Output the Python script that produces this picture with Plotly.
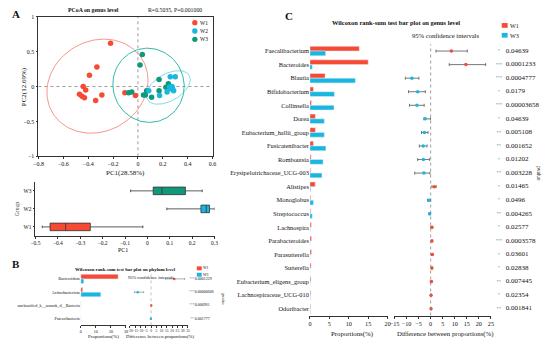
import numpy as np
import plotly.graph_objects as go

W, H = 550, 347
FONT = "Liberation Serif"
RED = "#F64A35"
CYAN = "#19B6DF"
GREEN = "#10987A"
ELL_COLORS = {"W1": "#F7968A", "W2": "#82D9EC", "W3": "#2DBBA9"}
PT_COLORS = {"W1": RED, "W2": CYAN, "W3": GREEN}

# ---------------- Panel A: PCoA ----------------
groups = ["W1", "W2", "W3"]
pc1_w1 = [-0.22, -0.33, -0.39, -0.44, -0.42, -0.47, -0.45, -0.43, -0.34, -0.29, -0.105, -0.02]
pc2_w1 = [0.62, 0.28, 0.16, 0.0, -0.05, -0.11, -0.14, -0.16, -0.20, -0.12, -0.09, -0.13]
pc1_w2 = [0.26, 0.30, 0.087, 0.174, 0.234, 0.268, 0.279, 0.287, 0.255, 0.263, 0.274]
pc2_w2 = [0.14, 0.14, -0.06, -0.13, -0.08, -0.023, -0.035, -0.06, -0.005, -0.03, 0.0]
pc1_w3 = [0.035, 0.017, -0.075, -0.05, 0.07, 0.045, 0.06, 0.11, 0.17, 0.17, 0.245, 0.225]
pc2_w3 = [0.46, 0.31, -0.09, -0.08, -0.06, -0.12, -0.12, -0.155, 0.10, -0.06, 0.04, -0.01]
pcoa_title = "PCoA on genus level"
pcoa_stat = "R=0.5035, P=0.001000"
pc1_label = "PC1(28.58%)"
pc2_label = "PC2(12.69%)"
pcoa_xticks = [-0.8, -0.6, -0.4, -0.2, 0, 0.2, 0.4, 0.6]
pcoa_yticks = [-1, -0.5, 0, 0.5, 1]
box_xticks = [-0.5, -0.4, -0.3, -0.2, -0.1, 0, 0.1, 0.2, 0.3]

# ---------------- Panel B: phylum ----------------
phylum_title = "Wilcoxon rank-sum test bar plot on phylum level"
phylum = ["Bacteroidota", "Actinobacteriota", "unclassified_k__norank_d__Bacteria", "Patescibacteria"]
phylum_w1 = [24.8, 1.3, 0.15, 0.05]
phylum_w3 = [2.0, 13.3, 0.03, 0.15]
phylum_diff = [22.0, -12.6, 0.2, -0.15]
phylum_lo = [13.8, -15.7, 0.1, -0.3]
phylum_hi = [31.8, -7.0, 0.3, 0.0]
phylum_p = ["0.0001229", "0.00000606", "0.000961", "0.001777"]
phylum_prop_ticks = [0, 10, 20, 30]
phylum_diff_ticks = [-20, -15, -10, -5, 0, 5, 10, 15, 20, 25, 30, 35]

# ---------------- Panel C: genus ----------------
genus_title = "Wilcoxon rank-sum test bar plot on genus level"
genus = ["Faecalibacterium", "Bacteroides", "Blautia", "Bifidobacterium", "Collinsella", "Dorea",
         "Eubacterium_hallii_group", "Fusicatenibacter", "Romboutsia", "Erysipelotrichaceae_UCG-003",
         "Alistipes", "Monoglobus", "Streptococcus", "Lachnospira", "Parabacteroides",
         "Parasutterella", "Sutterella", "Eubacterium_eligens_group", "Lachnospiraceae_UCG-010",
         "Odoribacter"]
genus_w1 = [12.7, 15.0, 3.9, 0.9, 0.4, 1.4, 1.4, 0.9, 0.3, 0.2, 1.35, 0.2, 0.2, 0.35, 0.4, 0.4, 0.3, 0.25, 0.2, 0.15]
genus_w3 = [4.05, 0.6, 11.7, 6.3, 6.2, 3.7, 3.7, 4.1, 3.4, 3.1, 0.2, 0.9, 0.6, 0.05, 0.05, 0.05, 0.03, 0.05, 0.1, 0.1]
genus_diff = [8.6, 14.6, -7.8, -5.4, -5.7, -2.3, -2.6, -3.1, -3.0, -2.8, 1.5, -0.7, -0.4, 0.5, 0.5, 0.65, 0.5, 0.3, 0.15, 0.15]
genus_lo = [2.2, 7.7, -10.5, -9.2, -8.8, -2.8, -3.8, -4.7, -5.4, -6.6, 0.5, -1.3, -0.7, 0.2, 0.3, 0.4, 0.3, 0.15, 0.05, 0.05]
genus_hi = [15.2, 22.8, -4.9, -2.2, -2.7, -0.1, -1.1, -1.5, -0.4, -0.3, 2.3, 0.0, -0.1, 0.8, 0.8, 0.9, 0.75, 0.5, 0.3, 0.3]
genus_p = ["0.04639", "0.0001233", "0.0004777", "0.0179", "0.00003658", "0.04639", "0.005108",
           "0.001652", "0.01202", "0.003228", "0.01465", "0.0496", "0.004265", "0.02577",
           "0.0003578", "0.03601", "0.02838", "0.007445", "0.02354", "0.001841"]
genus_prop_ticks = [0, 5, 10, 15, 20]
genus_diff_ticks = [-15, -10, -5, 0, 5, 10, 15, 20, 25]
ci_label = "95% confidence intervals"


def X(p):
    return p / W


def Y(p):
    return 1 - p / H


def stars(p):
    v = float(p)
    return "***" if v < 0.001 else ("**" if v < 0.01 else "*")


def conf_ellipse(x, y, level=0.95, npts=120):
    x = np.asarray(x, float)
    y = np.asarray(y, float)
    n = len(x)
    cov = np.cov(x, y)
    d2 = n - 1
    f = d2 / 2 * ((1 - level) ** (-2 / d2) - 1)  # F(2, n-1) quantile
    r = np.sqrt(2 * f)
    vals, vecs = np.linalg.eigh(cov)
    t = np.linspace(0, 2 * np.pi, npts)
    circ = np.vstack([np.cos(t), np.sin(t)])
    pts = vecs @ (np.sqrt(vals)[:, None] * circ) * r
    return x.mean() + pts[0], y.mean() + pts[1]


pc1 = {"W1": pc1_w1, "W2": pc1_w2, "W3": pc1_w3}
pc2 = {"W1": pc2_w1, "W2": pc2_w2, "W3": pc2_w3}

fig = go.Figure()

# ellipses then points
for g in groups:
    ex, ey = conf_ellipse(pc1[g], pc2[g])
    fig.add_trace(go.Scatter(x=ex, y=ey, mode="lines", line=dict(color=ELL_COLORS[g], width=1),
                             hoverinfo="skip", showlegend=False, xaxis="x", yaxis="y"))
for g in ["W1", "W3", "W2"]:
    fig.add_trace(go.Scatter(x=pc1[g], y=pc2[g], mode="markers", name=g,
                             marker=dict(color=PT_COLORS[g], size=5.5), showlegend=False,
                             xaxis="x", yaxis="y"))

# boxplot of PC1
for g in groups:
    fig.add_trace(go.Box(x=pc1[g], y=[g] * len(pc1[g]), orientation="h", name=g, boxpoints=False,
                         fillcolor=PT_COLORS[g], line=dict(color="#333333", width=0.8),
                         whiskerwidth=0.35, showlegend=False, xaxis="x2", yaxis="y2"))

# Panel B bars
fig.add_trace(go.Bar(y=phylum, x=phylum_w1, orientation="h", marker_color=RED, name="W1",
                     showlegend=False, xaxis="x3", yaxis="y3"))
fig.add_trace(go.Bar(y=phylum, x=phylum_w3, orientation="h", marker_color=CYAN, name="W3",
                     showlegend=False, xaxis="x3", yaxis="y3"))
pd_arr = np.array(phylum_diff)
fig.add_trace(go.Scatter(y=phylum, x=phylum_diff, mode="markers",
                         marker=dict(color=[RED if d > 0 else CYAN for d in phylum_diff], size=2.5),
                         error_x=dict(type="data", symmetric=False,
                                      array=list(np.array(phylum_hi) - pd_arr),
                                      arrayminus=list(pd_arr - np.array(phylum_lo)),
                                      color="#777777", thickness=0.6, width=1),
                         showlegend=False, xaxis="x4", yaxis="y4"))
# Panel B p-value column (stars + values)
fig.add_trace(go.Scatter(y=phylum, x=[0] * len(phylum), mode="text", cliponaxis=False,
                         text=[stars(p) for p in phylum_p], textposition="middle center",
                         textfont=dict(family=FONT, size=3.5, color="#6b7fa0"),
                         hoverinfo="skip", showlegend=False, xaxis="x7", yaxis="y7"))
fig.add_trace(go.Scatter(y=phylum, x=[0] * len(phylum), mode="text", cliponaxis=False,
                         text=phylum_p, textposition="middle right",
                         textfont=dict(family=FONT, size=4.0, color="#111111"),
                         hoverinfo="skip", showlegend=False, xaxis="x8", yaxis="y8"))

# Panel C bars
fig.add_trace(go.Bar(y=genus, x=genus_w1, orientation="h", marker_color=RED, name="W1",
                     showlegend=False, xaxis="x5", yaxis="y5"))
fig.add_trace(go.Bar(y=genus, x=genus_w3, orientation="h", marker_color=CYAN, name="W3",
                     showlegend=False, xaxis="x5", yaxis="y5"))
gd_arr = np.array(genus_diff)
fig.add_trace(go.Scatter(y=genus, x=genus_diff, mode="markers",
                         marker=dict(color=[RED if d > 0 else CYAN for d in genus_diff], size=3.5),
                         error_x=dict(type="data", symmetric=False,
                                      array=list(np.array(genus_hi) - gd_arr),
                                      arrayminus=list(gd_arr - np.array(genus_lo)),
                                      color="#555555", thickness=0.8, width=1.5),
                         showlegend=False, xaxis="x6", yaxis="y6"))
# Panel C p-value column
fig.add_trace(go.Scatter(y=genus, x=[0] * len(genus), mode="text", cliponaxis=False,
                         text=[stars(p) for p in genus_p], textposition="middle center",
                         textfont=dict(family=FONT, size=4.5, color="#6b7fa0"),
                         hoverinfo="skip", showlegend=False, xaxis="x9", yaxis="y9"))
fig.add_trace(go.Scatter(y=genus, x=[0] * len(genus), mode="text", cliponaxis=False,
                         text=genus_p, textposition="middle right",
                         textfont=dict(family=FONT, size=7.0, color="#111111"),
                         hoverinfo="skip", showlegend=False, xaxis="x10", yaxis="y10"))

tf = lambda s: dict(family=FONT, size=s, color="#111111")
ax_common = dict(showgrid=False, zeroline=False, ticks="outside", tickcolor="#333333",
                 linecolor="#333333", linewidth=0.8, tickwidth=0.8, tickangle=0)
nP = len(phylum)
nG = len(genus)


def hidden_x(lo, hi, anchor):
    return dict(domain=[X(lo), X(hi)], range=[-1, 1], visible=False, anchor=anchor, fixedrange=True)


def hidden_y(top, bot, cats, anchor):
    return dict(domain=[Y(bot), Y(top)], type="category", categoryorder="array", categoryarray=cats,
                range=[len(cats) - 0.5, -0.5], visible=False, anchor=anchor)


layout = dict(
    width=W, height=H, margin=dict(l=0, r=0, t=0, b=0),
    paper_bgcolor="white", plot_bgcolor="rgba(0,0,0,0)",
    barmode="group", bargap=0.3, bargroupgap=0.0, boxgap=0.4,
    font=dict(family=FONT, color="#111111"),
    xaxis=dict(domain=[X(34), X(211)], range=[-0.8, 0.6], tickvals=pcoa_xticks, showline=True,
               mirror=True, ticklen=2, tickfont=tf(6), anchor="y", **ax_common),
    yaxis=dict(domain=[Y(156), Y(14)], range=[-1, 1], tickvals=pcoa_yticks, showline=True,
               mirror=True, ticklen=2, tickfont=tf(6), anchor="x", **ax_common),
    xaxis2=dict(domain=[X(31), X(213)], range=[-0.5, 0.3], tickvals=box_xticks, showline=True,
                ticklen=2, tickfont=tf(5.5), anchor="y2", **ax_common),
    yaxis2=dict(domain=[Y(237), Y(182)], type="category", categoryorder="array",
                categoryarray=groups, range=[-0.5, 2.5], showline=True, ticklen=2,
                tickfont=tf(5.5), anchor="x2", **ax_common),
    xaxis3=dict(domain=[X(77), X(123)], range=[0, 30], tickvals=phylum_prop_ticks, showline=True,
                ticklen=1.5, tickfont=tf(4), anchor="y3", **ax_common),
    yaxis3=dict(domain=[Y(328), Y(274)], type="category", categoryorder="array",
                categoryarray=phylum, range=[nP - 0.5, -0.5], showline=False, ticks="",
                tickfont=tf(4.2), anchor="x3", showgrid=False, zeroline=False),
    xaxis4=dict(domain=[X(127), X(186)], range=[-20, 35], tickvals=phylum_diff_ticks, showline=True,
                ticklen=1.5, tickfont=tf(3.6), anchor="y4", **ax_common),
    yaxis4=hidden_y(274, 328, phylum, "x4"),
    xaxis5=dict(domain=[X(310), X(389)], range=[0, 20], tickvals=genus_prop_ticks, showline=True,
                ticklen=2.5, tickfont=tf(6.2), anchor="y5", **ax_common),
    yaxis5=dict(domain=[Y(318), Y(42)], type="category", categoryorder="array",
                categoryarray=genus, range=[nG - 0.5, -0.5], showline=False, ticks="",
                tickfont=tf(6.4), anchor="x5", showgrid=False, zeroline=False),
    xaxis6=dict(domain=[X(396), X(494)], range=[-15, 25], tickvals=genus_diff_ticks, showline=True,
                ticklen=2.5, tickfont=tf(6.2), anchor="y6", **ax_common),
    yaxis6=hidden_y(42, 318, genus, "x6"),
    xaxis7=hidden_x(188, 192, "y7"),
    yaxis7=hidden_y(274, 328, phylum, "x7"),
    xaxis8=hidden_x(190, 196, "y8"),
    yaxis8=hidden_y(274, 328, phylum, "x8"),
    xaxis9=hidden_x(499, 505, "y9"),
    yaxis9=hidden_y(42, 318, genus, "x9"),
    xaxis10=hidden_x(506, 512, "y10"),
    yaxis10=hidden_y(42, 318, genus, "x10"),
)

shapes = [
    dict(type="line", xref="x", yref="y domain", x0=0, x1=0, y0=0, y1=1,
         line=dict(color="#9a9a9a", width=1, dash="dot"), layer="below"),
    dict(type="line", xref="x domain", yref="y", x0=0, x1=1, y0=0, y1=0,
         line=dict(color="#9a9a9a", width=1, dash="dot"), layer="below"),
    dict(type="line", xref="x4", yref="y4 domain", x0=0, x1=0, y0=0, y1=1,
         line=dict(color="#999999", width=0.6, dash="dot")),
    dict(type="line", xref="x6", yref="y6 domain", x0=0, x1=0, y0=0, y1=1,
         line=dict(color="#888888", width=0.8, dash="dot")),
]

ann = []


def txt(x, y, s, size, xanchor="center", yanchor="middle", bold=False, angle=0, color="#111111"):
    ann.append(dict(x=x, y=y, xref="paper", yref="paper", text=(f"<b>{s}</b>" if bold else s),
                    showarrow=False, xanchor=xanchor, yanchor=yanchor, textangle=angle,
                    borderpad=0, borderwidth=0, font=dict(family=FONT, size=size, color=color)))


# panel letters
txt(X(11), Y(11), "A", 11, bold=True)
txt(X(11), Y(266), "B", 11, bold=True)
txt(X(289), Y(13), "C", 11, bold=True)

# Panel A texts
txt(X(90), Y(7), pcoa_title, 5.8, bold=True)
txt(X(173), Y(7), pcoa_stat, 5.8)
txt(X(123), Y(173), pc1_label, 7)
txt(X(19), Y(85), pc2_label, 7, angle=-90)
for i, g in enumerate(groups):
    cy = 20 + i * 8.5
    shapes.append(dict(type="circle", xref="paper", yref="paper", x0=X(190.3), x1=X(195.7),
                       y0=Y(cy + 2.7), y1=Y(cy - 2.7), fillcolor=PT_COLORS[g], line=dict(width=0)))
    txt(X(202.5), Y(cy), g, 5.5)
txt(X(120), Y(251), "PC1", 6)
txt(X(13), Y(210), "Group", 5.5, angle=-90)

# Panel B texts
txt(X(122), Y(271), phylum_title, 4.8, bold=True)
txt(X(148), Y(279), ci_label, 4.5)
for i, (g, c) in enumerate(zip(["W1", "W3"], [RED, CYAN])):
    cy = 270 + i * 6.5
    shapes.append(dict(type="rect", xref="paper", yref="paper", x0=X(195), x1=X(200),
                       y0=Y(cy + 2), y1=Y(cy - 2), fillcolor=c, line=dict(width=0)))
    txt(X(204.5), Y(cy), g, 3.8)
txt(X(222), Y(302), "pvalue", 4.3, angle=90)
txt(X(100), Y(339), "Proportions(%)", 5)
txt(X(158), Y(339), "Difference between proportions(%)", 4.8)

# Panel C texts
txt(X(397), Y(20), genus_title, 6.4, bold=True)
txt(X(448), Y(33), ci_label, 6.6)
for i, (g, c) in enumerate(zip(["W1", "W3"], [RED, CYAN])):
    cy = 22.8 + i * 10
    shapes.append(dict(type="rect", xref="paper", yref="paper", x0=X(505), x1=X(511),
                       y0=Y(cy + 2.4), y1=Y(cy - 2.4), fillcolor=c, line=dict(width=0)))
    txt(X(518), Y(cy), g, 6.2)
txt(X(543), Y(173), "pvalue", 5.5, angle=90)
txt(X(353), Y(337), "Proportions(%)", 6.8)
txt(X(448), Y(337), "Difference between proportions(%)", 6.8)

layout["shapes"] = shapes
layout["annotations"] = ann
fig.update_layout(**layout)
fig.write_html("out.html", config={"displayModeBar": False},
               post_script="document.body.style.margin='0';document.body.style.overflow='hidden';")
